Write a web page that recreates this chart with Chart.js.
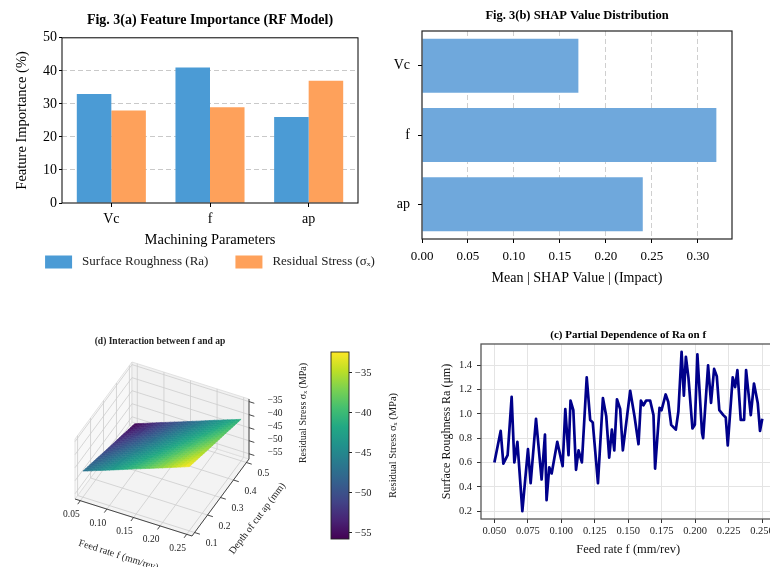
<!DOCTYPE html>
<html lang="en">
<head>
    <meta charset="UTF-8">
    <title>Fig. 3</title>
    <script src="https://cdn.jsdelivr.net/npm/chart.js"></script>
    <style>
        html, body { margin: 0; padding: 0; background: #fff; overflow: hidden; }
        body { width: 770px; height: 567px; position: relative; }
        canvas { position: absolute; }
    </style>
</head>
<body>
<canvas id="chartA" width="385" height="285" style="left:0;top:0"></canvas>
<canvas id="chartB" width="385" height="290" style="left:385px;top:0"></canvas>
<canvas id="chartD" width="320" height="247" style="left:0;top:320px"></canvas>
<canvas id="chartBar" width="120" height="220" style="left:300px;top:340px"></canvas>
<canvas id="chartC" width="360" height="247" style="left:430px;top:320px"></canvas>

<script>
    // (a) feature importance, %
    var paramLabels = ['Vc', 'f', 'ap'];
    var importanceRa = [33, 41, 26];
    var importanceStress = [28, 29, 37];

    // (b) mean |SHAP|
    var shapLabels = ['Vc', 'f', 'ap'];
    var shapValues = [0.17, 0.32, 0.24];

    // (c) partial dependence of Ra on f (vertices)
    var pdFeed = [0.050, 0.0547, 0.0567, 0.0599, 0.0629, 0.0649, 0.0672, 0.0709, 0.0751, 0.0771,
        0.0811, 0.0853, 0.0878, 0.0890, 0.0910, 0.0928, 0.0970, 0.1010, 0.1030, 0.1054,
        0.1069, 0.1090, 0.1110, 0.1129, 0.1154, 0.1190, 0.1216, 0.1235, 0.1274, 0.1311,
        0.1336, 0.1358, 0.1378, 0.1396, 0.1416, 0.1440, 0.1460, 0.1515, 0.1547, 0.1577,
        0.1595, 0.1614, 0.1634, 0.1664, 0.1689, 0.1701, 0.1734, 0.1749, 0.1780, 0.1799,
        0.1821, 0.1856, 0.1875, 0.1899, 0.1916, 0.1931, 0.1950, 0.1980, 0.1998, 0.2017,
        0.2052, 0.2060, 0.2097, 0.2119, 0.2142, 0.2162, 0.2181, 0.2211, 0.2229, 0.2244,
        0.2281, 0.2299, 0.2316, 0.2341, 0.2366, 0.2381, 0.2416, 0.2440, 0.2468, 0.2485, 0.2502];
    var pdRa = [0.60, 0.86, 0.59, 0.66, 1.14, 0.60, 0.77, 0.20, 0.71, 0.43,
        0.96, 0.46, 0.83, 0.29, 0.56, 0.51, 0.77, 0.57, 1.04, 0.66,
        1.11, 1.03, 0.54, 0.70, 0.60, 1.30, 0.95, 0.93, 0.43, 1.13,
        0.98, 0.64, 0.87, 0.70, 1.12, 1.04, 0.70, 1.19, 0.98, 0.75,
        1.11, 1.07, 1.11, 1.11, 0.99, 0.55, 1.05, 1.03, 1.16, 1.10,
        0.91, 0.87, 1.02, 1.51, 1.15, 1.47, 1.30, 0.88, 0.91, 1.49,
        0.84, 0.80, 1.40, 1.09, 1.37, 1.31, 1.03, 0.99, 0.97, 0.74,
        1.30, 1.22, 1.36, 0.95, 0.95, 1.36, 0.99, 1.25, 1.09, 0.86, 0.96];

    // (d) residual stress surface, rows = ap, columns = f
    var surfFeed = [0.05, 0.10, 0.15, 0.20, 0.25];
    var surfDepth = [0.1, 0.2, 0.3, 0.4, 0.5];
    var surfStress = [
        [-47.0, -43.4, -39.7, -36.1, -32.4],
        [-49.2, -45.5, -41.9, -38.2, -34.6],
        [-51.4, -47.7, -44.1, -40.4, -36.8],
        [-53.5, -49.9, -46.2, -42.6, -38.9],
        [-55.7, -52.0, -48.4, -44.7, -41.1]
    ];
    var feedTicks3d = [0.05, 0.10, 0.15, 0.20, 0.25];
    var depthTicks3d = [0.1, 0.2, 0.3, 0.4, 0.5];
    var stressTicks = [-55, -50, -45, -40, -35];
    var stressRange = [-55.75, -32.4];

    var serif = "'Liberation Serif', 'Times New Roman', serif";
    Chart.defaults.font.family = serif;
    Chart.defaults.color = '#000';
    Chart.defaults.animation = false;

    // matplotlib-like box round the axes
    var framePlugin = {
        id: 'frame',
        afterDraw: function (chart, args, opts) {
            var a = chart.chartArea, ctx = chart.ctx;
            ctx.save();
            ctx.strokeStyle = opts.color || '#000';
            ctx.lineWidth = opts.width || 1;
            ctx.strokeRect(a.left, a.top, a.right - a.left, a.bottom - a.top);
            ctx.restore();
        }
    };

    // one-row legend under the x axis title (the built-in one wraps here)
    var rowLegendPlugin = {
        id: 'rowLegend',
        afterDraw: function (chart, args, opts) {
            var ctx = chart.ctx, a = chart.chartArea;
            var sets = chart.data.datasets;
            ctx.save();
            ctx.font = opts.size + 'px ' + serif;
            var widths = sets.map(function (d) { return opts.box + opts.textGap + ctx.measureText(d.label).width; });
            var total = widths.reduce(function (s, w) { return s + w; }, 0) + opts.itemGap * (sets.length - 1);
            var x = (a.left + a.right) / 2 - total / 2;
            var y = opts.y;
            sets.forEach(function (d, i) {
                ctx.fillStyle = d.backgroundColor;
                ctx.fillRect(x, y - opts.boxH / 2, opts.box, opts.boxH);
                ctx.fillStyle = '#222';
                ctx.textBaseline = 'middle';
                ctx.textAlign = 'left';
                ctx.fillText(d.label, x + opts.box + opts.textGap, y);
                x += widths[i] + opts.itemGap;
            });
            ctx.restore();
        }
    };

    // viridis
    var viridisStops = ['#440154', '#482475', '#414487', '#355f8d', '#2a788e', '#21918c',
        '#22a884', '#44bf70', '#7ad151', '#bddf26', '#fde725'];
    function hexRgb(h) {
        return [parseInt(h.substr(1, 2), 16), parseInt(h.substr(3, 2), 16), parseInt(h.substr(5, 2), 16)];
    }
    function viridis(t) {
        t = Math.max(0, Math.min(1, t));
        var s = t * 10, i = Math.min(9, Math.floor(s)), r = s - i;
        var a = hexRgb(viridisStops[i]), b = hexRgb(viridisStops[i + 1]);
        return 'rgb(' + Math.round(a[0] + (b[0] - a[0]) * r) + ',' + Math.round(a[1] + (b[1] - a[1]) * r) + ',' + Math.round(a[2] + (b[2] - a[2]) * r) + ')';
    }

    // ---------- (a) ----------
    new Chart(document.getElementById('chartA'), {
        type: 'bar',
        data: {
            labels: paramLabels,
            datasets: [
                {label: 'Surface Roughness (Ra)', data: importanceRa, backgroundColor: '#4b9bd5',
                    barPercentage: 1, categoryPercentage: 0.7},
                {label: 'Residual Stress (\u03c3\u2093)', data: importanceStress, backgroundColor: '#fea15b',
                    barPercentage: 1, categoryPercentage: 0.7}
            ]
        },
        options: {
            responsive: false,
            layout: {padding: {right: 27, bottom: 36}},
            plugins: {
                title: {display: true, fullSize: false, text: 'Fig. 3(a) Feature Importance (RF Model)',
                    font: {size: 14, weight: 'bold'}, color: '#000', padding: {top: 12, bottom: 9}},
                legend: {display: false},
                rowLegend: {y: 262, size: 13, box: 27, boxH: 13, textGap: 10, itemGap: 27},
                tooltip: {enabled: false},
                frame: {color: '#000', width: 1}
            },
            scales: {
                x: {
                    grid: {drawOnChartArea: false, offset: false, tickLength: 4, tickColor: '#000'},
                    border: {display: false},
                    ticks: {font: {size: 14}, padding: 4, color: '#000'},
                    title: {display: true, text: 'Machining Parameters', font: {size: 14.5}, color: '#000',
                        padding: {top: 0, bottom: 0}},
                    afterFit: function (s) { s.height = 46; }
                },
                y: {
                    min: 0, max: 50,
                    ticks: {stepSize: 10, font: {size: 14}, padding: 2, color: '#000'},
                    grid: {
                        color: function (c) { return (c.tick && (c.tick.value === 0 || c.tick.value === 50)) ? 'rgba(0,0,0,0)' : '#c9c9c9'; },
                        tickLength: 3, tickColor: '#000'
                    },
                    border: {display: false, dash: [5, 3]},
                    title: {display: true, text: 'Feature Importance (%)', font: {size: 14.5}, color: '#000',
                        padding: {top: 13, bottom: 0}},
                    afterFit: function (s) { s.width = 62; }
                }
            }
        },
        plugins: [framePlugin, rowLegendPlugin]
    });

    // ---------- (b) ----------
    new Chart(document.getElementById('chartB'), {
        type: 'bar',
        data: {
            labels: shapLabels,
            datasets: [{data: shapValues, backgroundColor: '#6fa8dc', barPercentage: 0.78, categoryPercentage: 1}]
        },
        options: {
            indexAxis: 'y',
            responsive: false,
            layout: {padding: {right: 38}},
            plugins: {
                title: {display: true, fullSize: false, text: 'Fig. 3(b) SHAP Value Distribution',
                    font: {size: 12.5, weight: 'bold'}, color: '#000', padding: {top: 8, bottom: 8}},
                legend: {display: false},
                tooltip: {enabled: false},
                frame: {color: '#222', width: 1.2}
            },
            scales: {
                x: {
                    min: 0, max: 0.337,
                    ticks: {stepSize: 0.05, includeBounds: false, font: {size: 13}, padding: 6, color: '#000',
                        callback: function (v) { return v.toFixed(2); }},
                    grid: {
                        color: function (c) { return (c.tick && c.tick.value === 0) ? 'rgba(0,0,0,0)' : '#cfcfcf'; },
                        tickLength: 4, tickColor: '#000'
                    },
                    border: {display: false, dash: [5, 3]},
                    title: {display: true, text: 'Mean | SHAP Value | (Impact)', font: {size: 14}, color: '#000',
                        padding: {top: 0, bottom: 3.5}},
                    afterFit: function (s) { s.height = 51; }
                },
                y: {
                    grid: {drawOnChartArea: false, offset: false, tickLength: 4, tickColor: '#000'},
                    border: {display: false},
                    ticks: {font: {size: 14}, padding: 8, color: '#000'},
                    afterFit: function (s) { s.width = 37; }
                }
            }
        },
        plugins: [framePlugin]
    });

    // ---------- (c) ----------
    var pdPoints = pdFeed.map(function (f, i) { return {x: f, y: pdRa[i]}; });
    new Chart(document.getElementById('chartC'), {
        type: 'scatter',
        data: {
            datasets: [{data: pdPoints, showLine: true, borderColor: '#00008b', borderWidth: 2.7,
                pointRadius: 0, tension: 0, borderJoinStyle: 'round'}]
        },
        options: {
            responsive: false,
            layout: {padding: {right: 14.6}},
            plugins: {
                title: {display: true, fullSize: false, text: '(c) Partial Dependence of Ra on f',
                    font: {size: 11, weight: 'bold'}, color: '#000', padding: {top: 8.4, bottom: 2.4}},
                legend: {display: false},
                tooltip: {enabled: false},
                frame: {color: '#555', width: 1.3}
            },
            scales: {
                x: {
                    type: 'linear', min: 0.04, max: 0.26,
                    ticks: {stepSize: 0.025, includeBounds: false, font: {size: 10.5}, padding: 2, color: '#222',
                        callback: function (v) { return v.toFixed(3); }},
                    grid: {color: '#e4e4e4', tickLength: 4, tickColor: '#333'},
                    border: {display: false},
                    title: {display: true, text: 'Feed rate f (mm/rev)', font: {size: 12.5}, color: '#111',
                        padding: {top: 0, bottom: 9.5}},
                    afterFit: function (s) { s.height = 48; }
                },
                y: {
                    min: 0.135, max: 1.575,
                    ticks: {stepSize: 0.2, includeBounds: false, font: {size: 10.5}, padding: 5, color: '#222',
                        callback: function (v) { return v.toFixed(1); }},
                    grid: {color: '#e4e4e4', tickLength: 4, tickColor: '#333'},
                    border: {display: false},
                    title: {display: true, text: 'Surface Roughness Ra (\u03bcm)', font: {size: 12}, color: '#111',
                        padding: {top: 10, bottom: 0}},
                    afterFit: function (s) { s.width = 51; }
                }
            }
        },
        plugins: [framePlugin]
    });

    // ---------- (d) 3D surface ----------
    // orthographic view: limits of the box and screen vectors of its three edges
    var view3d = {
        fLim: [0.04, 0.26], apLim: [0.08, 0.52], zLim: [-57, -34],
        origin: [75, 179], eF: [117, 37], eAp: [57, -77], eZ: [0, -60]
    };
    function proj(f, ap, z) {
        var u = (f - view3d.fLim[0]) / (view3d.fLim[1] - view3d.fLim[0]);
        var v = (ap - view3d.apLim[0]) / (view3d.apLim[1] - view3d.apLim[0]);
        var w = (z - view3d.zLim[0]) / (view3d.zLim[1] - view3d.zLim[0]);
        return [view3d.origin[0] + u * view3d.eF[0] + v * view3d.eAp[0] + w * view3d.eZ[0],
            view3d.origin[1] + u * view3d.eF[1] + v * view3d.eAp[1] + w * view3d.eZ[1]];
    }
    function stressColor(z) {
        return viridis((z - stressRange[0]) / (stressRange[1] - stressRange[0]));
    }

    var surfacePlugin = {
        id: 'surface3d',
        afterDraw: function (chart) {
            var ctx = chart.ctx, sx = chart.scales.x, sy = chart.scales.y;
            function P(f, ap, z) {
                var q = proj(f, ap, z);
                return [sx.getPixelForValue(q[0]), sy.getPixelForValue(q[1])];
            }
            function poly(pts, fill, stroke, lw) {
                ctx.beginPath();
                ctx.moveTo(pts[0][0], pts[0][1]);
                for (var i = 1; i < pts.length; i++) ctx.lineTo(pts[i][0], pts[i][1]);
                ctx.closePath();
                if (fill) { ctx.fillStyle = fill; ctx.fill(); }
                if (stroke) { ctx.strokeStyle = stroke; ctx.lineWidth = lw || 1; ctx.stroke(); }
            }
            function line(a, b, color, lw) {
                ctx.beginPath();
                ctx.moveTo(a[0], a[1]);
                ctx.lineTo(b[0], b[1]);
                ctx.strokeStyle = color;
                ctx.lineWidth = lw;
                ctx.stroke();
            }
            function label(txt, p, dx, dy, size, rot, weight) {
                ctx.save();
                ctx.translate(p[0] + dx, p[1] + dy);
                if (rot) ctx.rotate(rot * Math.PI / 180);
                ctx.font = (weight || '') + ' ' + size + 'px ' + serif;
                ctx.fillStyle = '#222';
                ctx.textAlign = 'center';
                ctx.textBaseline = 'middle';
                ctx.fillText(txt, 0, 0);
                ctx.restore();
            }
            var f0 = view3d.fLim[0], f1 = view3d.fLim[1];
            var a0 = view3d.apLim[0], a1 = view3d.apLim[1];
            var z0 = view3d.zLim[0], z1 = view3d.zLim[1];
            ctx.save();

            // panes
            poly([P(f0, a0, z0), P(f1, a0, z0), P(f1, a1, z0), P(f0, a1, z0)], '#f3f3f3', '#dcdcdc', 0.8);
            poly([P(f0, a0, z0), P(f0, a1, z0), P(f0, a1, z1), P(f0, a0, z1)], '#f8f8f8', '#dcdcdc', 0.8);
            poly([P(f0, a1, z0), P(f1, a1, z0), P(f1, a1, z1), P(f0, a1, z1)], '#f1f1f1', '#dcdcdc', 0.8);

            // grid lines on the panes
            var g = '#cdcdcd';
            feedTicks3d.forEach(function (f) {
                line(P(f, a0, z0), P(f, a1, z0), g, 0.8);
                line(P(f, a1, z0), P(f, a1, z1), g, 0.8);
            });
            depthTicks3d.forEach(function (ap) {
                line(P(f0, ap, z0), P(f1, ap, z0), g, 0.8);
                line(P(f0, ap, z0), P(f0, ap, z1), g, 0.8);
            });
            stressTicks.forEach(function (z) {
                line(P(f0, a0, z), P(f0, a1, z), g, 0.8);
                line(P(f0, a1, z), P(f1, a1, z), g, 0.8);
            });

            // axis lines and ticks
            line(P(f0, a0, z0), P(f1, a0, z0), '#333', 0.9);
            line(P(f1, a0, z0), P(f1, a1, z0), '#333', 0.9);
            line(P(f1, a1, z0), P(f1, a1, z1), '#333', 0.9);
            feedTicks3d.forEach(function (f) {
                line(P(f, a0, z0), P(f, a0 - 0.02, z0), '#333', 0.9);
                label(f.toFixed(2), P(f, a0, z0), -9, 14, 9.5);
            });
            depthTicks3d.forEach(function (ap) {
                line(P(f1, ap, z0), P(f1 + 0.01, ap, z0), '#333', 0.9);
                label(ap.toFixed(1), P(f1, ap, z0), 17, 11, 9.5);
            });
            stressTicks.forEach(function (z) {
                line(P(f1, a1, z), P(f1 + 0.01, a1, z), '#333', 0.9);
                label('\u2212' + Math.abs(z), P(f1, a1, z), 26, -1, 9.5);
            });

            // surface, each cell split finely for smooth colouring, far cells first
            var quads = [], n = 6;
            for (var j = 0; j < surfDepth.length - 1; j++) {
                for (var i = 0; i < surfFeed.length - 1; i++) {
                    var zA = surfStress[j][i], zB = surfStress[j][i + 1];
                    var zC = surfStress[j + 1][i + 1], zD = surfStress[j + 1][i];
                    for (var b = 0; b < n; b++) {
                        for (var a = 0; a < n; a++) {
                            var pts = [], sum = 0;
                            [[a, b], [a + 1, b], [a + 1, b + 1], [a, b + 1]].forEach(function (st) {
                                var s = st[0] / n, t = st[1] / n;
                                var z = zA * (1 - s) * (1 - t) + zB * s * (1 - t) + zC * s * t + zD * (1 - s) * t;
                                var f = surfFeed[i] + s * (surfFeed[i + 1] - surfFeed[i]);
                                var ap = surfDepth[j] + t * (surfDepth[j + 1] - surfDepth[j]);
                                sum += z;
                                pts.push(P(f, ap, z));
                            });
                            quads.push({pts: pts, z: sum / 4, depth: (i * n + a) - (j * n + b)});
                        }
                    }
                }
            }
            quads.sort(function (p, q) { return p.depth - q.depth; });
            quads.forEach(function (q) {
                var c = stressColor(q.z);
                poly(q.pts, c, c, 0.6);
            });

            // axis titles and panel title
            var fm = P((f0 + f1) / 2, a0, z0);
            label('Feed rate f (mm/rev)', fm, -15, 38, 10, 17.5);
            var am = P(f1, (a0 + a1) / 2, z0);
            label('Depth of cut ap (mm)', am, 37, 21, 10, -53);
            var zm = P(f1, a1, (z0 + z1) / 2);
            label('Residual Stress \u03c3\u2093 (MPa)', zm, 54, -16, 10, -90);
            label('(d) Interaction between f and ap', [sx.getPixelForValue(160), sy.getPixelForValue(22)], 0, 0, 9.5, 0, 'bold');
            ctx.restore();
        }
    };

    new Chart(document.getElementById('chartD'), {
        type: 'scatter',
        data: {datasets: []},
        options: {
            responsive: false,
            layout: {padding: 0},
            plugins: {legend: {display: false}, tooltip: {enabled: false}},
            scales: {
                x: {type: 'linear', min: 0, max: 320, display: false},
                y: {type: 'linear', min: 0, max: 247, reverse: true, display: false}
            }
        },
        plugins: [surfacePlugin]
    });

    // ---------- colour bar ----------
    var barLabelPlugin = {
        id: 'barLabel',
        afterDraw: function (chart) {
            var ctx = chart.ctx, a = chart.chartArea;
            ctx.save();
            ctx.translate(a.right + 44, (a.top + a.bottom) / 2);
            ctx.rotate(-Math.PI / 2);
            ctx.font = '10.5px ' + serif;
            ctx.fillStyle = '#222';
            ctx.textAlign = 'center';
            ctx.textBaseline = 'middle';
            ctx.fillText('Residual Stress \u03c3\u2093 (MPa)', 0, 0);
            ctx.restore();
        }
    };
    new Chart(document.getElementById('chartBar'), {
        type: 'bar',
        data: {
            labels: [''],
            datasets: [{
                data: [stressRange],
                barPercentage: 1, categoryPercentage: 1, borderWidth: 0,
                backgroundColor: function (c) {
                    var area = c.chart.chartArea;
                    if (!area) return '#21918c';
                    var grad = c.chart.ctx.createLinearGradient(0, area.bottom, 0, area.top);
                    viridisStops.forEach(function (col, k) { grad.addColorStop(k / 10, col); });
                    return grad;
                }
            }]
        },
        options: {
            responsive: false,
            layout: {padding: {left: 31, top: 12, bottom: 21}},
            plugins: {legend: {display: false}, tooltip: {enabled: false}, frame: {color: '#222', width: 0.9}},
            scales: {
                x: {display: false},
                y: {
                    position: 'right', min: stressRange[0], max: stressRange[1],
                    afterBuildTicks: function (s) { s.ticks = stressTicks.map(function (v) { return {value: v}; }); },
                    ticks: {font: {size: 10.5}, padding: 3, color: '#222',
                        callback: function (v) { return '\u2212' + Math.abs(v); }},
                    grid: {drawOnChartArea: false, tickLength: 3, tickColor: '#222'},
                    border: {display: false},
                    afterFit: function (s) { s.width = 71; }
                }
            }
        },
        plugins: [framePlugin, barLabelPlugin]
    });
</script>
</body>
</html>
